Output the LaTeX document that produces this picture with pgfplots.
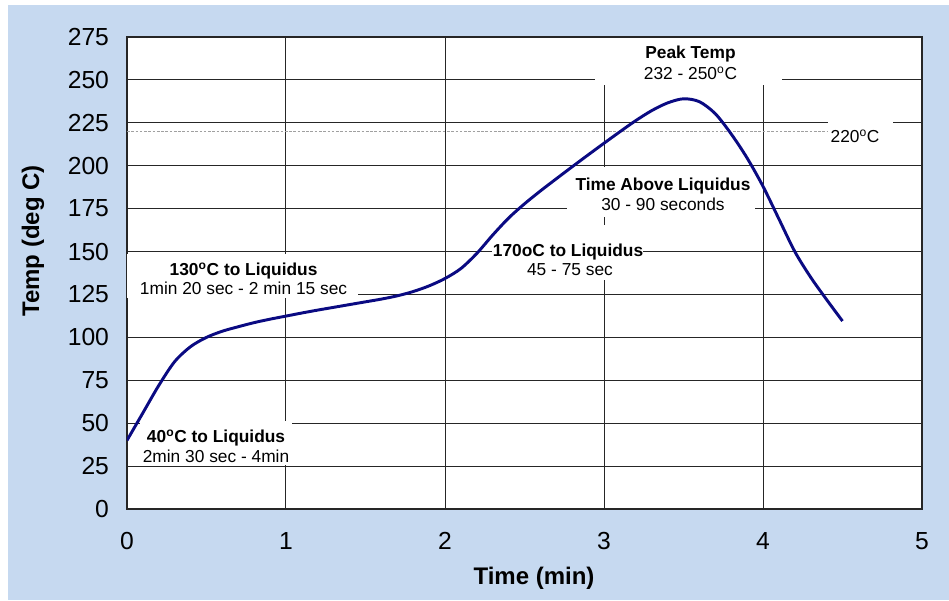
\documentclass[border=0pt]{standalone}
\usepackage{fontspec}
\setmainfont{Liberation Sans}
\usepackage{pgfplots}
\pgfplotsset{compat=1.18}
\definecolor{bgblue}{RGB}{198,217,240}
\definecolor{curveblue}{RGB}{10,10,130}
\definecolor{refgray}{RGB}{160,160,160}
\newcommand{\ann}{\fontsize{13}{15}\selectfont}
\newcommand{\sdeg}{\textsuperscript{o}}
\begin{document}
\begin{tikzpicture}
\fill[white] (-95.25pt,-68.25pt) rectangle (616.5pt,381.75pt);
\fill[bgblue] (-89.25pt,-68.25pt) rectangle (616.5pt,378pt);
\begin{axis}[
    at={(0,0)}, anchor=south west,
    scale only axis,
    width=596.25pt, height=354pt,
    xmin=0, xmax=5, ymin=0, ymax=275,
    xtick={0,1,2,3,4,5},
    ytick={0,25,...,275},
    major tick length=0pt,
    grid=major,
    major grid style={black!85, line width=0.75pt},
    axis line style={black!85, line width=0.9pt},
    axis background/.style={fill=white},
    /pgf/number format/assume math mode=true,
    tick label style={font=\fontsize{18.5}{20}\selectfont},
    yticklabel style={xshift=-10pt},
    xticklabel style={yshift=-14pt},
    every axis x label/.style={at={(axis description cs:0.512,-0.1462)}, anchor=center,
        font=\fontsize{18}{20}\selectfont\bfseries},
    every axis y label/.style={at={(axis description cs:-0.1182,0.568)}, rotate=90, anchor=center,
        font=\fontsize{18}{20}\selectfont\bfseries},
    xlabel={Time (min)},
    ylabel={Temp (deg C)},
]
% liquidus reference line
\addplot[refgray, line width=1.2pt, dash pattern=on 2pt off 1.2pt] coordinates {(0,220) (4.41,220)};

% white boxes behind the annotations
\fill[white] (axis cs:2.943,247) rectangle (axis cs:4.12,274.2);
\fill[white] (axis cs:4.41,212) rectangle (axis cs:4.82,229);
\fill[white] (axis cs:2.767,170.1) rectangle (axis cs:3.95,199.3);
\fill[white] (axis cs:2.296,133.4) rectangle (axis cs:3.245,165.5);
\fill[white] (axis cs:0.003,123) rectangle (axis cs:1.453,148.6);
\fill[white] (axis cs:0.08,25.6) rectangle (axis cs:1.04,51);

\node[anchor=base, font=\ann\bfseries] at (axis cs:3.544,262.2) {Peak Temp};
\node[anchor=base, font=\ann] at (axis cs:3.544,250.5) {232 - 250\sdeg C};
\node[anchor=base, font=\ann] at (axis cs:4.579,213.6) {220\sdeg C};
\node[anchor=base, font=\ann\bfseries] at (axis cs:3.371,185.5) {Time Above Liquidus};
\node[anchor=base, font=\ann] at (axis cs:3.371,174.2) {30 - 90 seconds};
\node[anchor=base, font=\ann\bfseries] at (axis cs:2.774,147) {170oC to Liquidus};
\node[anchor=base, font=\ann] at (axis cs:2.786,135.9) {45 - 75 sec};
\node[anchor=base, font=\ann\bfseries] at (axis cs:0.733,136.3) {130\sdeg C to Liquidus};
\node[anchor=base, font=\ann] at (axis cs:0.733,124.7) {1min 20 sec - 2 min 15 sec};
\node[anchor=base, font=\ann\bfseries] at (axis cs:0.56,38.6) {40\sdeg C to Liquidus};
\node[anchor=base, font=\ann] at (axis cs:0.56,27) {2min 30 sec - 4min};

% reflow profile
\addplot[curveblue, line width=2.2pt, smooth] coordinates {
    (0,40) (0.1,56) (0.2,72) (0.3,85.9) (0.4,94.6) (0.5,100) (0.6,103.6)
    (0.7,106.2) (0.8,108.6) (0.9,110.6) (1.0,112.4) (1.1,114.2) (1.2,115.9)
    (1.3,117.5) (1.4,119.1) (1.5,120.7) (1.6,122.3) (1.7,124.2) (1.8,126.7)
    (1.9,130) (2.0,134.3) (2.1,140.1) (2.2,148.9) (2.3,159.6) (2.4,169.5)
    (2.5,177.8) (2.6,185.3) (2.7,192.4) (2.8,199.4) (2.9,206.3) (3.0,213.1)
    (3.1,219.8) (3.2,226.3) (3.3,232.1) (3.4,236.6) (3.5,239) (3.6,237.3)
    (3.7,230.3) (3.8,218.5) (3.9,204.5) (4.0,188) (4.1,169) (4.2,150)
    (4.3,135) (4.4,122) (4.5,109.5)
};
\end{axis}
\end{tikzpicture}
\end{document}
